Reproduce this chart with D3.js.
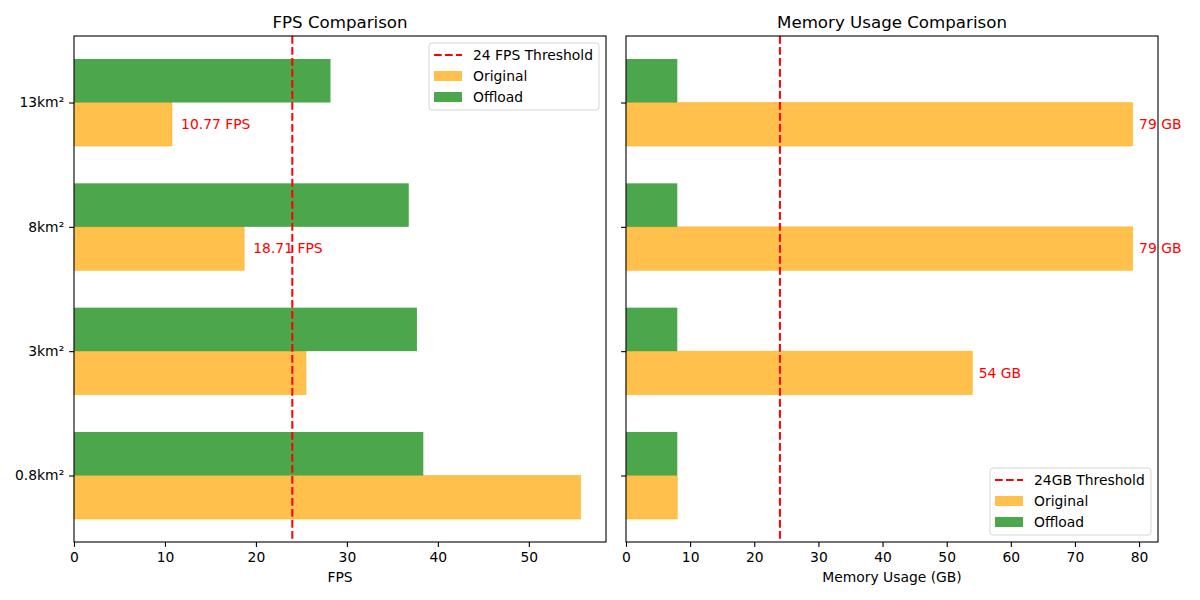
<!DOCTYPE html>
<html>
<head>
<meta charset="utf-8">
<script src="https://cdn.jsdelivr.net/npm/d3@7.9.0/dist/d3.min.js"></script>
<style>
  body { margin: 0; background: #fff; }
  text { font-family: "DejaVu Sans", sans-serif; }
</style>
</head>
<body>
<svg id="chart" width="1200" height="600"></svg>
<script>
const sizes = ['0.8km²', '3km²', '8km²', '13km²'];
const fpsOriginal = [55.7, 25.5, 18.71, 10.77];
const fpsOffload = [38.4, 37.7, 36.8, 28.2];
const memOriginal = [8, 54, 79, 79];
const memOffload = [8, 8, 8, 8];
const fpsTicks = [0, 10, 20, 30, 40, 50];
const memTicks = [0, 10, 20, 30, 40, 50, 60, 70, 80];

const svg = d3.select('#chart');
const plotTop = 36, plotBottom = 542;
const barH = 0.35;
const fs = 13.89;
const orange = 'rgba(255,165,0,0.7)';
const green = 'rgba(0,128,0,0.7)';

function panel(opts) {
  const { left, right, orig, off, ticks, threshold, title, xlabel, showY, labelFn, labelWhen, legendTitle, legendPos } = opts;
  const max = d3.max([...orig, ...off]);
  const x = d3.scaleLinear().domain([0, max * 1.05]).range([left, right]);
  const y = d3.scaleLinear().domain([-0.535, 3.535]).range([plotBottom, plotTop]);
  const g = svg.append('g');

  // bars
  g.selectAll('rect.orig')
    .data(orig)
    .join('rect')
    .attr('class', 'orig')
    .attr('x', x(0))
    .attr('y', (d, i) => y(i))
    .attr('width', (d) => x(d) - x(0))
    .attr('height', y(0) - y(barH))
    .attr('fill', orange)
    .attr('stroke', 'rgba(255,165,0,0.5)')
    .attr('stroke-width', 0.8);

  g.selectAll('rect.off')
    .data(off)
    .join('rect')
    .attr('class', 'off')
    .attr('x', x(0))
    .attr('y', (d, i) => y(i + barH))
    .attr('width', (d) => x(d) - x(0))
    .attr('height', y(0) - y(barH))
    .attr('fill', green);

  // threshold
  g.append('line')
    .attr('x1', x(threshold)).attr('x2', x(threshold))
    .attr('y1', plotTop).attr('y2', plotBottom)
    .attr('stroke', 'red').attr('stroke-width', 2)
    .attr('stroke-dasharray', '7.7,3.3');

  // value labels
  orig.forEach((v, i) => {
    if (!labelWhen(v)) return;
    g.append('text')
      .attr('x', x(v + 1))
      .attr('y', y(i - barH / 2))
      .attr('dy', '0.35em')
      .attr('font-size', fs)
      .attr('fill', 'red')
      .text(labelFn(v));
  });

  // axes
  const xAxis = d3.axisBottom(x).tickValues(ticks).tickSize(4.9).tickPadding(4.9);
  const ax = g.append('g').attr('transform', `translate(0,${plotBottom})`).call(xAxis);
  ax.select('.domain').remove();
  ax.selectAll('line').attr('stroke-width', 1.1);
  ax.selectAll('text').attr('font-size', fs).attr('fill', '#000').style('font-family', 'DejaVu Sans');

  const yAxis = d3.axisLeft(y).tickValues([0, 1, 2, 3]).tickSize(4.9).tickPadding(4.9)
    .tickFormat((d) => showY ? sizes[d] : '');
  const ay = g.append('g').attr('transform', `translate(${left},0)`).call(yAxis);
  ay.select('.domain').remove();
  ay.selectAll('line').attr('stroke-width', 1.1);
  ay.selectAll('text').attr('font-size', fs).attr('fill', '#000').style('font-family', 'DejaVu Sans');

  g.append('rect')
    .attr('x', left).attr('y', plotTop)
    .attr('width', right - left).attr('height', plotBottom - plotTop)
    .attr('fill', 'none').attr('stroke', '#000').attr('stroke-width', 1.1);

  g.append('text')
    .attr('x', (left + right) / 2).attr('y', 28)
    .attr('text-anchor', 'middle').attr('font-size', 16.67)
    .text(title);

  g.append('text')
    .attr('x', (left + right) / 2).attr('y', 582)
    .attr('text-anchor', 'middle').attr('font-size', fs)
    .text(xlabel);

  // legend
  const lw = legendPos.w, lh = 67;
  const lg = g.append('g').attr('transform', `translate(${legendPos.x},${legendPos.y})`);
  lg.append('rect').attr('width', lw).attr('height', lh).attr('rx', 3)
    .attr('fill', 'rgba(255,255,255,0.8)').attr('stroke', '#d6d6d6');
  const items = [
    { label: legendTitle, type: 'line' },
    { label: 'Original', color: orange },
    { label: 'Offload', color: green },
  ];
  items.forEach((it, i) => {
    const cy = 12 + i * 21;
    if (it.type === 'line') {
      lg.append('line').attr('x1', 5).attr('x2', 33).attr('y1', cy).attr('y2', cy)
        .attr('stroke', 'red').attr('stroke-width', 2).attr('stroke-dasharray', '7.7,3.3');
    } else {
      lg.append('rect').attr('x', 5).attr('y', cy - 5).attr('width', 28).attr('height', 10)
        .attr('fill', it.color);
    }
    lg.append('text').attr('x', 44).attr('y', cy).attr('dy', '0.35em')
      .attr('font-size', fs).text(it.label);
  });
}

panel({
  left: 74, right: 606, orig: fpsOriginal, off: fpsOffload, ticks: fpsTicks,
  threshold: 24, title: 'FPS Comparison', xlabel: 'FPS', showY: true,
  labelFn: (v) => `${v.toFixed(2)} FPS`, labelWhen: (v) => v < 24,
  legendTitle: '24 FPS Threshold', legendPos: { x: 429, y: 43, w: 170 },
});

panel({
  left: 626, right: 1158, orig: memOriginal, off: memOffload, ticks: memTicks,
  threshold: 24, title: 'Memory Usage Comparison', xlabel: 'Memory Usage (GB)', showY: false,
  labelFn: (v) => `${v} GB`, labelWhen: (v) => v > 24,
  legendTitle: '24GB Threshold', legendPos: { x: 990, y: 468, w: 161 },
});
</script>
</body>
</html>
